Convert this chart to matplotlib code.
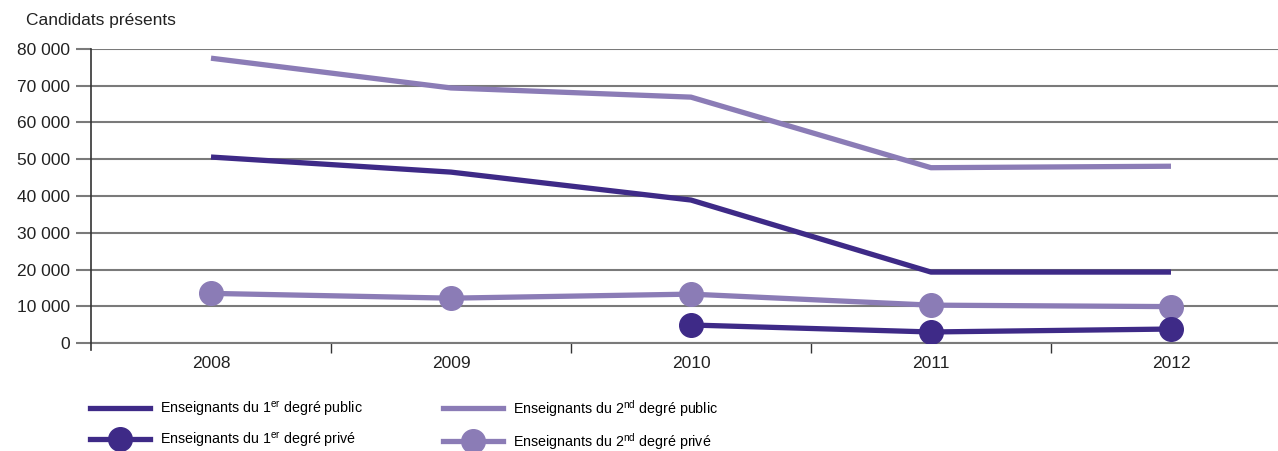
import matplotlib
matplotlib.use("Agg")
import matplotlib.pyplot as plt
from matplotlib.lines import Line2D
import numpy as np

plt.rcParams['font.family'] = ['Liberation Sans Narrow', 'Liberation Sans', 'DejaVu Sans']

years = ["2008", "2009", "2010", "2011", "2012"]
premier_public = [50600, 46500, 38900, 19300, 19300]
second_public = [77500, 69400, 66900, 47700, 48100]
premier_prive = [None, None, 4900, 3000, 3800]
second_prive = [13500, 12200, 13300, 10300, 9900]
yticks = [0, 10000, 20000, 30000, 40000, 50000, 60000, 70000, 80000]
ytick_labels = ["0", "10 000", "20 000", "30 000", "40 000", "50 000", "60 000", "70 000", "80 000"]

dark = "#3e2a87"
light = "#8b7cb6"

fig = plt.figure(figsize=(12.78, 4.51), dpi=100)
ax = fig.add_axes([91/1278, 108/451, 1 - 91/1278, 294/451])

x = np.arange(len(years))

def arr(v):
    return np.array([np.nan if a is None else a for a in v], dtype=float)

ax.plot(x, arr(second_public), color=light, lw=3.8, solid_capstyle='butt', zorder=3)
ax.plot(x, arr(premier_public), color=dark, lw=3.8, solid_capstyle='butt', zorder=3)
ax.plot(x, arr(second_prive), color=light, lw=3.8, marker='o', ms=17, mec=light, zorder=3)
ax.plot(x, arr(premier_prive), color=dark, lw=3.8, marker='o', ms=17, mec=dark, zorder=3)

ax.set_xlim(-0.5, 4.5 - 13/240.5)
ax.set_ylim(0, 80000)
ax.set_yticks(yticks)
ax.set_yticklabels(ytick_labels, fontsize=12.5, color="#222222")
ax.yaxis.grid(True, color="#7a7a7a", lw=1.5)
ax.set_axisbelow(True)
ax.tick_params(axis='y', length=11, width=1.5, color="#7a7a7a", pad=4)

ax.set_xticks(x)
ax.set_xticklabels(years, fontsize=12.5, color="#222222")
ax.set_xticks(np.arange(0.5, 4.5, 1), minor=True)
ax.tick_params(axis='x', which='major', length=0, pad=9)
ax.tick_params(axis='x', which='minor', length=7, width=1.0, color="#333333")

for s in ['top', 'right']:
    ax.spines[s].set_visible(False)
ax.spines['bottom'].set_color("#7a7a7a")
ax.spines['bottom'].set_linewidth(1.5)
ax.spines['left'].set_color("#333333")
ax.spines['left'].set_linewidth(1.2)
ax.spines['left'].set_bounds(-1800, 80000)
ax.spines['left'].set_zorder(4)

fig.text(26/1278, 1 - 20/451, "Candidats présents", fontsize=12.5, color="#222222", va='center', ha='left')

handles = [
    Line2D([], [], color=dark, lw=3.8),
    Line2D([], [], color=dark, lw=3.8, marker='o', ms=17),
    Line2D([], [], color=light, lw=3.8),
    Line2D([], [], color=light, lw=3.8, marker='o', ms=17),
]
labels = [
    r"Enseignants du 1$^{\mathregular{er}}$ degré public",
    r"Enseignants du 1$^{\mathregular{er}}$ degré privé",
    r"Enseignants du 2$^{\mathregular{nd}}$ degré public",
    r"Enseignants du 2$^{\mathregular{nd}}$ degré privé",
]
fig.legend(handles, labels, ncol=2, loc='upper left', bbox_to_anchor=(84/1278, 1 - 392/451),
           frameon=False, fontsize=10.3, handlelength=4.2, handletextpad=0.7,
           columnspacing=5.6, labelspacing=0.85, borderaxespad=0)

fig.savefig("out.png", dpi=100)
